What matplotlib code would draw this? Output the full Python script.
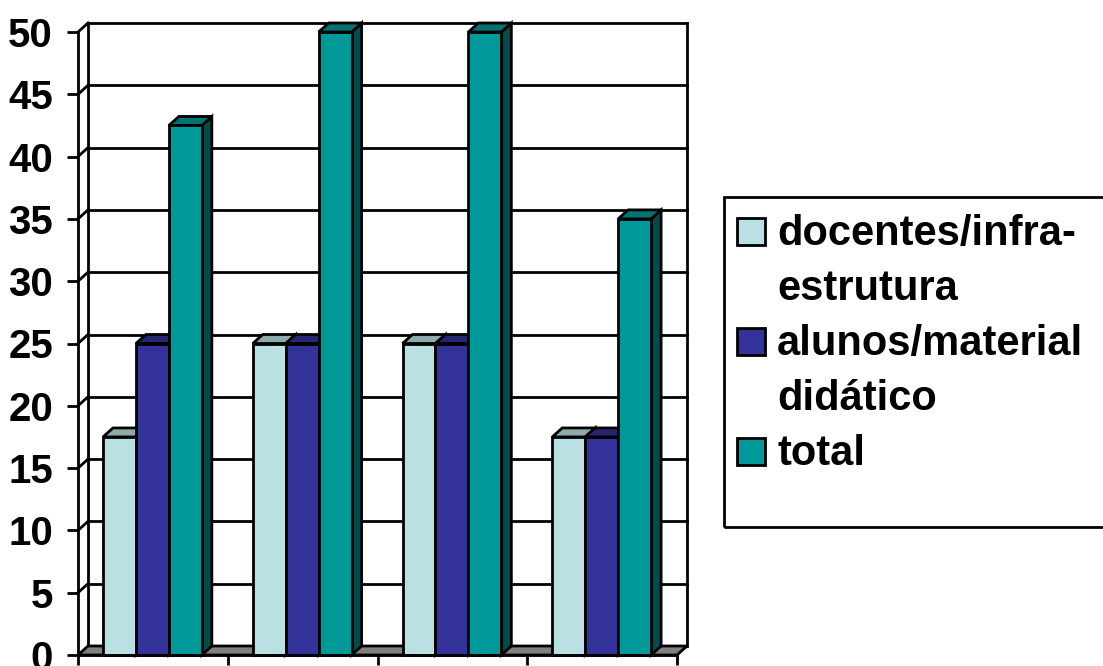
import numpy as np
import matplotlib
matplotlib.use("Agg")
import matplotlib.pyplot as plt
from matplotlib.patches import Polygon, Rectangle

plt.rcParams['font.family'] = ['Liberation Sans', 'DejaVu Sans']
plt.rcParams['font.weight'] = 'bold'

# dados
grupos = ['1', '2', '3', '4']
series = ['docentes/infra-\nestrutura', 'alunos/material\ndidático', 'total']
docentes = [17.5, 25, 25, 17.5]
alunos = [25, 25, 25, 17.5]
total = [42.5, 50, 50, 35]
valores = [docentes, alunos, total]

cor_frente = ['#BBE0E3', '#333399', '#009999']
cor_topo = ['#8FAAAC', '#262673', '#007373']
cor_lado = ['#8A9FA1', '#1F1F66', '#004D4D']

W, H = 1103, 666
fig = plt.figure(figsize=(W / 100, H / 100), dpi=100)

# area do grafico em pixels
px_x, px_y = 149.75, 12.46          # pixels por unidade
x0_px, x1_px, y0_px, y1_px = 78, 688, 655, 20
ax = fig.add_axes([x0_px / W, (H - y0_px) / H, (x1_px - x0_px) / W, (y0_px - y1_px) / H])
ax.set_xlim(0, (x1_px - x0_px) / px_x)
ax.set_ylim(0, (y0_px - y1_px) / px_y)

DX = 10 / px_x      # profundidade 3D
DY = 9 / px_y
lw = 2.0
n = len(grupos)

# parede do fundo + linhas de grade
for v in range(5, 51, 5):
    ax.plot([DX, n + DX], [v + DY, v + DY], color='black', lw=lw, zorder=1, clip_on=False)
    ax.plot([0, DX], [v, v + DY], color='black', lw=lw, zorder=1, clip_on=False)
ax.plot([DX, DX], [DY, 50 + DY], color='black', lw=lw, zorder=1, clip_on=False)
ax.plot([n + DX, n + DX], [DY, 50 + DY], color='black', lw=lw, zorder=1, clip_on=False)

# piso
ax.add_patch(Polygon([(0, 0), (n, 0), (n + DX, DY), (DX, DY)], closed=True,
                     facecolor='#808080', edgecolor='black', lw=lw, zorder=1.5, clip_on=False))

# barras 3D
larg = 0.22
margem = 0.167
for j, vals in enumerate(valores):
    z = 3 + j
    xs = np.arange(n) + margem + j * larg
    for x, v in zip(xs, vals):
        ax.add_patch(Polygon([(x + larg, 0), (x + larg, v), (x + larg + DX, v + DY), (x + larg + DX, DY)],
                             closed=True, facecolor=cor_lado[j], edgecolor='black', lw=lw, zorder=z,
                             clip_on=False))
        ax.add_patch(Polygon([(x, v), (x + larg, v), (x + larg + DX, v + DY), (x + DX, v + DY)],
                             closed=True, facecolor=cor_topo[j], edgecolor='black', lw=lw, zorder=z,
                             clip_on=False))
    ax.bar(xs, vals, width=larg, align='edge', color=cor_frente[j], edgecolor='black',
           linewidth=lw, zorder=z + 0.5, clip_on=False)

# eixos
for s in ['top', 'right']:
    ax.spines[s].set_visible(False)
ax.spines['left'].set_bounds(0, 50)
ax.spines['bottom'].set_bounds(0, n)
for s in ['left', 'bottom']:
    ax.spines[s].set_linewidth(lw)
    ax.spines[s].set_zorder(10)
ax.set_yticks(range(0, 51, 5))
ax.set_yticklabels([str(v) for v in range(0, 51, 5)], fontsize=29, fontweight='bold')
ax.set_xticks(range(0, n + 1))
ax.set_xticklabels([])
ax.tick_params(axis='y', length=8, width=lw, pad=10)
ax.tick_params(axis='x', length=7, width=lw)
ax.patch.set_visible(False)

# legenda
fig.add_artist(Rectangle((724 / W, (H - 527) / H), 400 / W, 330 / H, transform=fig.transFigure,
                         fill=False, edgecolor='black', lw=lw, clip_on=False))
linha = 0
for j, nome in enumerate(series):
    base = 245 + 55 * linha
    fig.add_artist(Rectangle((737 / W, (H - base) / H), 28 / W, 27 / H, transform=fig.transFigure,
                             facecolor=cor_frente[j], edgecolor='black', lw=lw))
    for parte in nome.split('\n'):
        fig.text(777 / W, (H - (245 + 55 * linha)) / H, parte, fontsize=30, fontweight='bold',
                 va='baseline', ha='left')
        linha += 1

fig.savefig('out.png', dpi=100)
